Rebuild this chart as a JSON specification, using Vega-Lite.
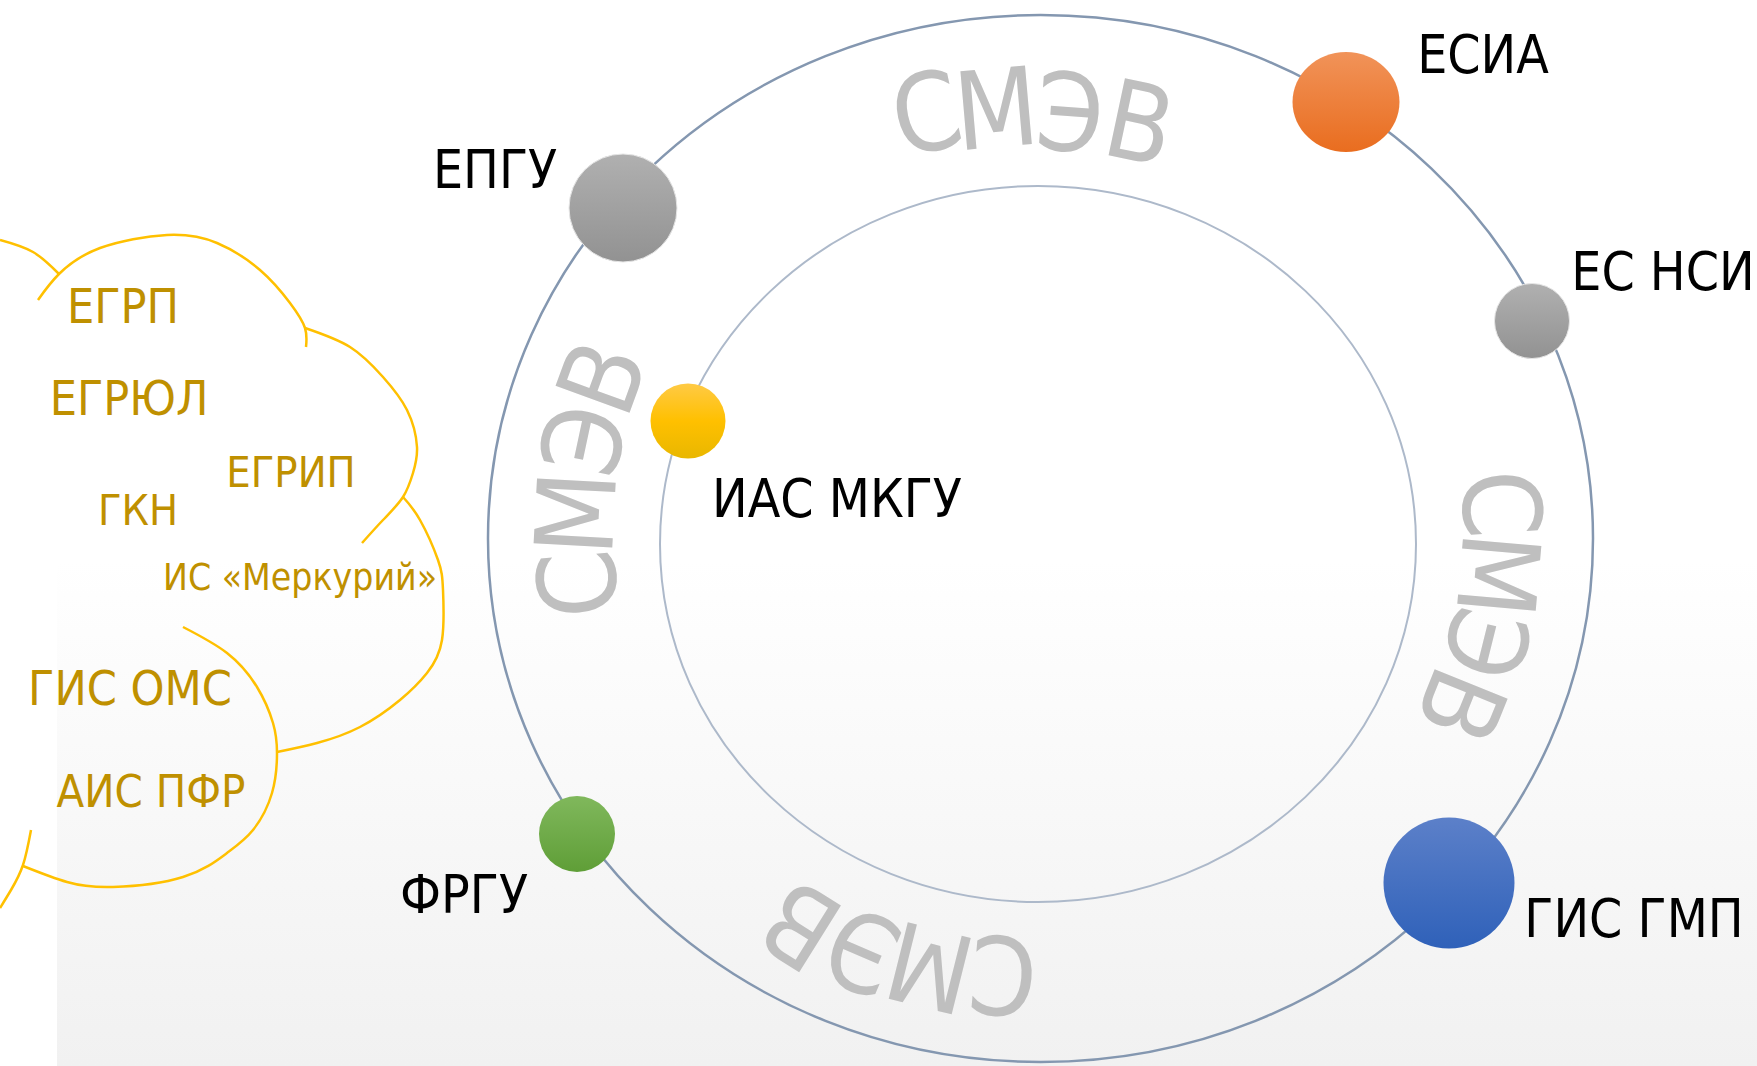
{
  "$schema": "https://vega.github.io/schema/vega-lite/v6.json",
  "width": 1757,
  "height": 1066,
  "padding": 0,
  "autosize": {"type": "none"},
  "background": "#ffffff",
  "config": {"view": {"stroke": null}},
  "datasets": {
    "bg": [{"x0": 57, "x1": 1757, "y0": 560, "y1": 1066}],
    "rings": [
      {"ring": "outer", "x": 1040.5, "y": 538.5},
      {"ring": "inner", "x": 1038, "y": 544}
    ],
    "nodes": [
      {"name": "ЕПГУ", "x": 623, "y": 208},
      {"name": "ЕСИА", "x": 1346, "y": 102},
      {"name": "ЕС НСИ", "x": 1532, "y": 321},
      {"name": "ИАС МКГУ", "x": 688, "y": 421},
      {"name": "ФРГУ", "x": 577, "y": 834},
      {"name": "ГИС ГМП", "x": 1449, "y": 883}
    ],
    "labels": [
      {"name": "ЕПГУ", "x": 495, "y": 188},
      {"name": "ЕСИА", "x": 1483, "y": 73},
      {"name": "ЕС НСИ", "x": 1663, "y": 290},
      {"name": "ИАС МКГУ", "x": 837, "y": 517},
      {"name": "ГИС ГМП", "x": 1634, "y": 937},
      {"name": "ФРГУ", "x": 464, "y": 913}
    ],
    "cloudLabels": [
      {"name": "ЕГРП", "x": 123, "y": 323},
      {"name": "ЕГРЮЛ", "x": 129, "y": 415},
      {"name": "ЕГРИП", "x": 291, "y": 487},
      {"name": "ГКН", "x": 138, "y": 525},
      {"name": "ИС «Меркурий»", "x": 300, "y": 590},
      {"name": "ГИС ОМС", "x": 130, "y": 705},
      {"name": "АИС ПФР", "x": 151, "y": 807}
    ],
    "smev": [
      {"arc": "top", "letter": "С", "x": 926, "y": 112, "angle": -12},
      {"arc": "top", "letter": "М", "x": 996, "y": 108, "angle": -5},
      {"arc": "top", "letter": "Э", "x": 1070, "y": 112, "angle": 4},
      {"arc": "top", "letter": "В", "x": 1140, "y": 122, "angle": 12},
      {"arc": "left", "letter": "С", "x": 577, "y": 584, "angle": -95},
      {"arc": "left", "letter": "М", "x": 575, "y": 513, "angle": -87},
      {"arc": "left", "letter": "Э", "x": 583, "y": 440, "angle": -78},
      {"arc": "left", "letter": "В", "x": 601, "y": 377, "angle": -70},
      {"arc": "right", "letter": "С", "x": 1502, "y": 504, "angle": 86},
      {"arc": "right", "letter": "М", "x": 1499, "y": 575, "angle": 95},
      {"arc": "right", "letter": "Э", "x": 1487, "y": 644, "angle": 104},
      {"arc": "right", "letter": "В", "x": 1462, "y": 706, "angle": 112},
      {"arc": "bottom", "letter": "С", "x": 1003, "y": 976, "angle": -175},
      {"arc": "bottom", "letter": "М", "x": 930, "y": 968, "angle": -166},
      {"arc": "bottom", "letter": "Э", "x": 862, "y": 952, "angle": -157},
      {"arc": "bottom", "letter": "В", "x": 800, "y": 926, "angle": -148}
    ],
    "cloud": [
      {"seg": "A", "i": 0, "x": 0, "y": 240},
      {"seg": "A", "i": 1, "x": 33, "y": 252},
      {"seg": "A", "i": 2, "x": 59, "y": 274},
      {"seg": "B", "i": 0, "x": 38, "y": 300},
      {"seg": "B", "i": 1, "x": 59, "y": 274},
      {"seg": "B", "i": 2, "x": 100, "y": 248},
      {"seg": "B", "i": 3, "x": 167, "y": 235},
      {"seg": "B", "i": 4, "x": 217, "y": 243},
      {"seg": "B", "i": 5, "x": 260, "y": 270},
      {"seg": "B", "i": 6, "x": 290, "y": 303},
      {"seg": "B", "i": 7, "x": 305, "y": 328},
      {"seg": "B", "i": 8, "x": 306, "y": 347},
      {"seg": "C", "i": 0, "x": 305, "y": 328},
      {"seg": "C", "i": 1, "x": 350, "y": 347},
      {"seg": "C", "i": 2, "x": 383, "y": 377},
      {"seg": "C", "i": 3, "x": 407, "y": 410},
      {"seg": "C", "i": 4, "x": 417, "y": 447},
      {"seg": "C", "i": 5, "x": 413, "y": 473},
      {"seg": "C", "i": 6, "x": 403, "y": 497},
      {"seg": "C", "i": 7, "x": 383, "y": 520},
      {"seg": "C", "i": 8, "x": 362, "y": 543},
      {"seg": "D", "i": 0, "x": 403, "y": 497},
      {"seg": "D", "i": 1, "x": 420, "y": 520},
      {"seg": "D", "i": 2, "x": 438, "y": 560},
      {"seg": "D", "i": 3, "x": 443, "y": 590},
      {"seg": "D", "i": 4, "x": 442, "y": 640},
      {"seg": "D", "i": 5, "x": 427, "y": 673},
      {"seg": "D", "i": 6, "x": 400, "y": 700},
      {"seg": "D", "i": 7, "x": 360, "y": 727},
      {"seg": "D", "i": 8, "x": 317, "y": 743},
      {"seg": "D", "i": 9, "x": 277, "y": 752},
      {"seg": "E", "i": 0, "x": 183, "y": 627},
      {"seg": "E", "i": 1, "x": 227, "y": 653},
      {"seg": "E", "i": 2, "x": 257, "y": 687},
      {"seg": "E", "i": 3, "x": 273, "y": 723},
      {"seg": "E", "i": 4, "x": 277, "y": 753},
      {"seg": "E", "i": 5, "x": 272, "y": 793},
      {"seg": "E", "i": 6, "x": 253, "y": 830},
      {"seg": "E", "i": 7, "x": 227, "y": 853},
      {"seg": "E", "i": 8, "x": 183, "y": 877},
      {"seg": "E", "i": 9, "x": 113, "y": 887},
      {"seg": "E", "i": 10, "x": 67, "y": 882},
      {"seg": "E", "i": 11, "x": 23, "y": 866},
      {"seg": "F", "i": 0, "x": 31, "y": 830},
      {"seg": "F", "i": 1, "x": 23, "y": 865},
      {"seg": "F", "i": 2, "x": 11, "y": 890},
      {"seg": "F", "i": 3, "x": 0, "y": 908}
    ]
  },
  "encoding": {
    "x": {"field": "x", "type": "quantitative", "scale": {"domain": [0, 1757], "nice": false, "zero": false}, "axis": null},
    "y": {"field": "y", "type": "quantitative", "scale": {"domain": [0, 1066], "nice": false, "zero": false, "reverse": true}, "axis": null}
  },
  "layer": [
    {
      "data": {"name": "bg"},
      "mark": {"type": "rect", "fill": {"gradient": "linear", "x1": 0, "y1": 0, "x2": 0, "y2": 1, "stops": [{"offset": 0, "color": "#ffffff"}, {"offset": 1, "color": "#f1f1f1"}]}},
      "encoding": {
        "x": {"field": "x0", "type": "quantitative", "scale": {"domain": [0, 1757], "nice": false, "zero": false}, "axis": null},
        "x2": {"field": "x1"},
        "y": {"field": "y0", "type": "quantitative", "scale": {"domain": [0, 1066], "nice": false, "zero": false, "reverse": true}, "axis": null},
        "y2": {"field": "y1"}
      }
    },
    {
      "data": {"name": "cloud"},
      "mark": {"type": "line", "interpolate": "natural", "stroke": "#ffc000", "strokeWidth": 2.5},
      "encoding": {
        "detail": {"field": "seg", "type": "nominal"},
        "order": {"field": "i", "type": "quantitative"}
      }
    },
    {
      "data": {"name": "cloudLabels"},
      "transform": [{"filter": {"field": "name", "oneOf": ["ЕГРП", "ЕГРЮЛ", "ГИС ОМС"]}}],
      "mark": {"type": "text", "font": "DejaVu Sans Condensed, DejaVu Sans", "fontSize": 48, "color": "#bf9000", "align": "center", "baseline": "alphabetic"},
      "encoding": {"text": {"field": "name"}}
    },
    {
      "data": {"name": "cloudLabels"},
      "transform": [{"filter": {"field": "name", "oneOf": ["АИС ПФР"]}}],
      "mark": {"type": "text", "font": "DejaVu Sans Condensed, DejaVu Sans", "fontSize": 45, "color": "#bf9000", "align": "center", "baseline": "alphabetic"},
      "encoding": {"text": {"field": "name"}}
    },
    {
      "data": {"name": "cloudLabels"},
      "transform": [{"filter": {"field": "name", "oneOf": ["ЕГРИП", "ГКН"]}}],
      "mark": {"type": "text", "font": "DejaVu Sans Condensed, DejaVu Sans", "fontSize": 43, "color": "#bf9000", "align": "center", "baseline": "alphabetic"},
      "encoding": {"text": {"field": "name"}}
    },
    {
      "data": {"name": "cloudLabels"},
      "transform": [{"filter": {"field": "name", "oneOf": ["ИС «Меркурий»"]}}],
      "mark": {"type": "text", "font": "DejaVu Sans Condensed, DejaVu Sans", "fontSize": 37, "color": "#bf9000", "align": "center", "baseline": "alphabetic"},
      "encoding": {"text": {"field": "name"}}
    },
    {
      "data": {"name": "rings"},
      "transform": [{"filter": "datum.ring == 'outer'"}],
      "mark": {"type": "point", "shape": "M -1 0 A 1 0.9475 0 1 1 1 0 A 1 0.9475 0 1 1 -1 0 Z", "size": 1221025, "filled": false, "stroke": "#8497b0", "strokeWidth": 2.5, "opacity": 1}
    },
    {
      "data": {"name": "rings"},
      "transform": [{"filter": "datum.ring == 'inner'"}],
      "mark": {"type": "point", "shape": "M -1 0 A 1 0.947 0 1 1 1 0 A 1 0.947 0 1 1 -1 0 Z", "size": 571536, "filled": false, "stroke": "#adb9ca", "strokeWidth": 2, "opacity": 1}
    },
    {
      "data": {"name": "smev"},
      "mark": {"type": "text", "font": "DejaVu Sans Condensed, DejaVu Sans", "fontSize": 108, "color": "#bfbfbf", "align": "center", "baseline": "alphabetic", "dy": 39},
      "encoding": {
        "text": {"field": "letter"},
        "angle": {"field": "angle", "type": "quantitative", "scale": null}
      }
    },
    {
      "data": {"name": "nodes"},
      "transform": [{"filter": "datum.name == 'ЕПГУ'"}],
      "mark": {"type": "point", "shape": "circle", "size": 11664, "filled": true, "opacity": 1, "stroke": "#e6e6e6", "strokeWidth": 1,
        "fill": {"gradient": "linear", "x1": 0, "y1": 0, "x2": 0, "y2": 1, "stops": [{"offset": 0, "color": "#b0b0b0"}, {"offset": 1, "color": "#929292"}]}}
    },
    {
      "data": {"name": "nodes"},
      "transform": [{"filter": "datum.name == 'ЕС НСИ'"}],
      "mark": {"type": "point", "shape": "circle", "size": 5625, "filled": true, "opacity": 1, "stroke": "#e6e6e6", "strokeWidth": 1,
        "fill": {"gradient": "linear", "x1": 0, "y1": 0, "x2": 0, "y2": 1, "stops": [{"offset": 0, "color": "#b0b0b0"}, {"offset": 1, "color": "#929292"}]}}
    },
    {
      "data": {"name": "nodes"},
      "transform": [{"filter": "datum.name == 'ЕСИА'"}],
      "mark": {"type": "point", "shape": "M -1 0 A 1 0.935 0 1 1 1 0 A 1 0.935 0 1 1 -1 0 Z", "size": 11449, "filled": true, "opacity": 1, "strokeWidth": 0,
        "fill": {"gradient": "linear", "x1": 0, "y1": 0, "x2": 0, "y2": 1, "stops": [{"offset": 0, "color": "#f19359"}, {"offset": 1, "color": "#e96d1f"}]}}
    },
    {
      "data": {"name": "nodes"},
      "transform": [{"filter": "datum.name == 'ИАС МКГУ'"}],
      "mark": {"type": "point", "shape": "circle", "size": 5625, "filled": true, "opacity": 1, "strokeWidth": 0,
        "fill": {"gradient": "linear", "x1": 0, "y1": 0, "x2": 0, "y2": 1, "stops": [{"offset": 0, "color": "#ffca45"}, {"offset": 0.5, "color": "#ffc000"}, {"offset": 1, "color": "#e9b700"}]}}
    },
    {
      "data": {"name": "nodes"},
      "transform": [{"filter": "datum.name == 'ФРГУ'"}],
      "mark": {"type": "point", "shape": "circle", "size": 5776, "filled": true, "opacity": 1, "strokeWidth": 0,
        "fill": {"gradient": "linear", "x1": 0, "y1": 0, "x2": 0, "y2": 1, "stops": [{"offset": 0, "color": "#80b85c"}, {"offset": 1, "color": "#5f9e37"}]}}
    },
    {
      "data": {"name": "nodes"},
      "transform": [{"filter": "datum.name == 'ГИС ГМП'"}],
      "mark": {"type": "point", "shape": "circle", "size": 17161, "filled": true, "opacity": 1, "strokeWidth": 0,
        "fill": {"gradient": "linear", "x1": 0, "y1": 0, "x2": 0, "y2": 1, "stops": [{"offset": 0, "color": "#5c80c9"}, {"offset": 1, "color": "#2f61b9"}]}}
    },
    {
      "data": {"name": "labels"},
      "mark": {"type": "text", "font": "DejaVu Sans Condensed, DejaVu Sans", "fontSize": 53, "color": "#000000", "align": "center", "baseline": "alphabetic"},
      "encoding": {"text": {"field": "name"}}
    }
  ]
}
